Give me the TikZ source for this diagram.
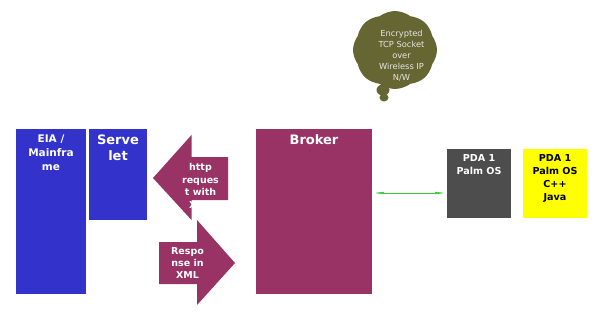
\documentclass[tikz,border=0pt]{standalone}
\usepackage{fontspec}
\setmainfont{DejaVu Sans}
\usetikzlibrary{shapes.symbols,arrows.meta}
\definecolor{cblue}{HTML}{3333CC}
\definecolor{cmaroon}{HTML}{993366}
\definecolor{cgray}{HTML}{4D4D4D}
\definecolor{cyel}{HTML}{FFFF00}
\definecolor{colive}{HTML}{666633}
\definecolor{cgreen}{HTML}{33CC33}
\tikzset{
  boxnode/.style={rectangle, inner sep=0pt, outer sep=0pt, anchor=north west},
  txt/.style={inner sep=0pt, anchor=north, align=center, font=\bfseries},
}
\begin{document}
\begin{tikzpicture}[x=1pt,y=-1pt]
\useasboundingbox (0,0) rectangle (609,314);
% boxes
\node[boxnode, fill=cblue, minimum width=70pt, minimum height=165pt] (eia) at (16,129) {};
\node[boxnode, fill=cblue, minimum width=58pt, minimum height=91pt] (serv) at (89,129) {};
\node[boxnode, fill=cmaroon, minimum width=116pt, minimum height=165pt] (broker) at (256,129) {};
\node[boxnode, fill=cgray, minimum width=64pt, minimum height=69pt] (pda) at (447,149) {};
\node[boxnode, fill=cyel, minimum width=64pt, minimum height=69pt] (pdy) at (523,149) {};
% block arrows
\fill[cmaroon] (153,178) -- (191.5,135) -- (191.5,157) -- (228,157) -- (228,200) -- (191.5,200) -- (191.5,220) -- cycle;
\fill[cmaroon] (235,263) -- (197,220) -- (197,242) -- (159,242) -- (159,284) -- (197,284) -- (197,305) -- cycle;
% cloud
\node[cloud, cloud puffs=8, cloud puff arc=75, fill=colive, minimum width=84pt, minimum height=78pt, inner sep=0pt] (cl) at (395,50) {};
\fill[colive] (383,90) ellipse (6.5pt and 5.5pt);
\fill[colive] (384,97.5) ellipse (4.5pt and 4pt);
% texts
\node[txt, text=white, font=\bfseries\fontsize{10.5}{14}\selectfont] (teia) at (51,135) {EIA /\\Mainfra\\me};
\node[txt, text=white, font=\bfseries\fontsize{13}{16}\selectfont] (tserv) at (118,135) {Serve\\let};
\node[txt, text=white, font=\bfseries\fontsize{13}{16}\selectfont] (tbroker) at (314,134.5) {Broker};
\node[txt, text=white, font=\bfseries\fontsize{9.5}{12.7}\selectfont] (thttp) at (200.5,163) {http\\reques\\t with\\XML};
\node[txt, text=white, font=\bfseries\fontsize{9.5}{12}\selectfont] (tresp) at (187.5,247.5) {Respo\\nse in\\XML};
\node[txt, text=white, font=\bfseries\fontsize{9.6}{13}\selectfont] (tpda) at (479,154.5) {PDA 1\\Palm OS};
\node[txt, text=black, font=\bfseries\fontsize{9.6}{12.8}\selectfont] (tpdy) at (555,154.5) {PDA 1\\Palm OS\\C++\\Java};
\node[txt, text=white!90!black, font=\fontsize{8.3}{11}\selectfont] (tcl) at (401.5,30) {Encrypted\\TCP Socket\\over\\Wireless IP\\N/W};
% connector
\draw[cgreen, line width=0.6pt, {Latex[length=12pt,width=2.5pt]}-{Latex[length=12pt,width=2.5pt]}] (broker.east |- 0,193) -- (pda.west |- 0,193);
\end{tikzpicture}
\end{document}
